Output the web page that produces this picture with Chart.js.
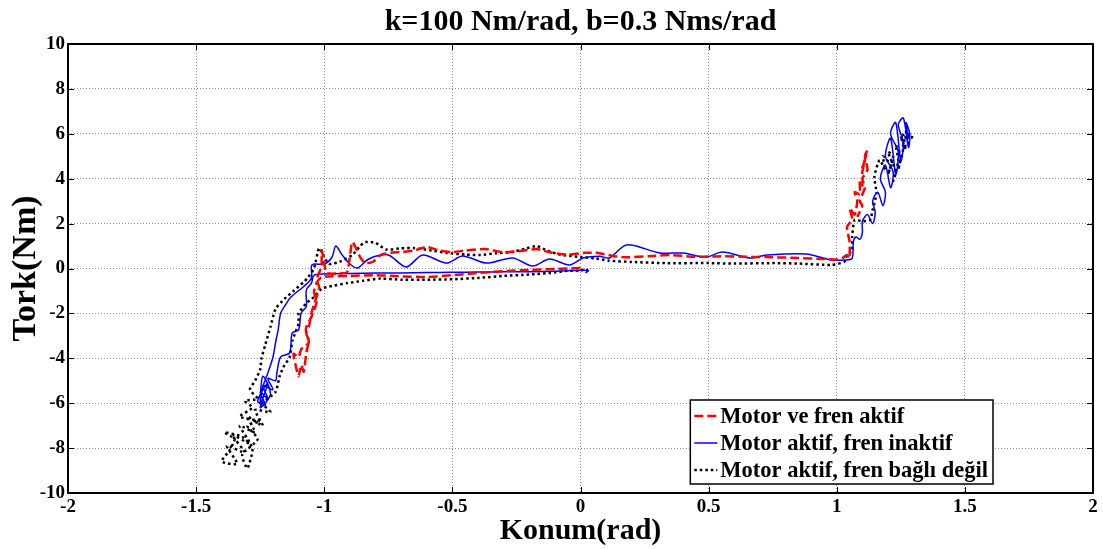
<!DOCTYPE html>
<html>
<head>
<meta charset="utf-8">
<script src="https://cdn.jsdelivr.net/npm/chart.js@4.4.1/dist/chart.umd.min.js"></script>
<style>
  body { margin: 0; background: #fff; }
  #wrap { width: 1103px; height: 549px; }
</style>
</head>
<body>
<div id="wrap"><canvas id="chart" width="1103" height="549"></canvas></div>
<script>
// Series names and axis ticks
const seriesNames = ['Motor ve fren aktif', 'Motor aktif, fren inaktif', 'Motor aktif, fren ba\u011fl\u0131 de\u011fil'];
const xTickValues = [-2, -1.5, -1, -0.5, 0, 0.5, 1, 1.5, 2];
const yTickValues = [-10, -8, -6, -4, -2, 0, 2, 4, 6, 8, 10];

// Motor ve fren aktif (red dashed)
const redX = [0.00, -0.05, -0.1, -0.2, -0.3, -0.4, -0.5, -0.6, -0.7, -0.8, -0.9, -0.97, -1.01,
  -1.03, -1.04, -1.03, -1.05, -1.07, -1.07, -1.06, -1.09, -1.10, -1.12, -1.11, -1.10, -1.09, -1.08, -1.07, -1.06, -1.07, -1.06, -1.05, -1.04, -1.03, -1.02, -1.03, -1.01, -1.01, -1.01, -1.0, -0.99, -0.94, -0.91, -0.89, -0.86, -0.84, -0.81, -0.78,
  -0.74, -0.7, -0.65, -0.6, -0.55, -0.5, -0.45, -0.37, -0.3, -0.22, -0.17, -0.12, -0.05, 0.02, 0.07, 0.13, 0.18, 0.27, 0.35, 0.45, 0.55, 0.65, 0.75, 0.85, 0.95, 1.0, 1.02, 1.04, 1.05,
  1.05, 1.04, 1.06, 1.05, 1.07, 1.08, 1.07, 1.09, 1.09, 1.1, 1.1, 1.11, 1.1, 1.12, 1.11, 1.12, 1.1, 1.11, 1.09, 1.1, 1.08];
const redY = [0.02, 0.0, -0.02, -0.06, -0.12, -0.2, -0.3, -0.38, -0.35, -0.3, -0.33, -0.35, -0.38,
  -0.65, -1.05, -1.5, -2.16, -2.6, -2.9, -3.3, -3.6, -3.94, -3.8, -4.4, -4.8, -4.3, -4.6, -3.76, -3.2, -2.9, -2.6, -2.0, -1.6, -1.27, -0.82, -0.5, 0.1, 0.38, 0.82, 0.24, -0.2, -0.22, -0.15, 1.18, 0.51, 0.24, 0.3, 0.6,
  0.7, 0.73, 0.8, 0.96, 0.8, 0.73, 0.8, 0.87, 0.72, 0.8, 0.87, 0.72, 0.62, 0.7, 0.69, 0.55, 0.5, 0.55, 0.6, 0.52, 0.55, 0.52, 0.5, 0.47, 0.42, 0.4, 0.45, 0.6, 0.45,
  1.2, 1.85, 2.2, 2.7, 2.4, 3.0, 3.4, 3.3, 3.9, 3.7, 4.3, 4.8, 4.5, 5.25, 5.0, 4.4, 4.0, 3.6, 3.0, 2.8, 2.3];

// Motor aktif, fren inaktif (blue solid)
const blueX = [0.02, 0.03, 0.01, -0.1, -0.2, -0.3, -0.4, -0.5, -0.6, -0.7, -0.8, -0.9, -1.0, -1.04,
  -1.05, -1.07, -1.07, -1.09, -1.10, -1.125, -1.135, -1.17, -1.185, -1.19,
  -1.22, -1.2, -1.24, -1.22, -1.25, -1.23, -1.26, -1.22, -1.25, -1.21, -1.24,
  -1.25, -1.24, -1.22, -1.2, -1.19, -1.18, -1.17, -1.15, -1.13, -1.08, -1.05, -1.048, -1.0, -0.97, -0.955, -0.93, -0.9, -0.87, -0.83, -0.78,
  -0.745, -0.68, -0.616, -0.523, -0.46, -0.367, -0.265, -0.187, -0.121, -0.043, 0.01, 0.074, 0.113, 0.18, 0.31, 0.4, 0.49, 0.554, 0.66, 0.726, 0.88, 0.98, 1.03, 1.06,
  1.065, 1.075, 1.09, 1.10, 1.10, 1.12, 1.14, 1.15, 1.14, 1.16, 1.18, 1.19, 1.17, 1.19, 1.21, 1.22, 1.19, 1.21, 1.23, 1.24, 1.21, 1.23, 1.25, 1.26, 1.24, 1.26, 1.28, 1.285, 1.27, 1.28];
const blueY = [-0.2, -0.1, -0.08, -0.12, -0.14, -0.15, -0.16, -0.17, -0.18, -0.2, -0.2, -0.22, -0.24, -0.3,
  -0.65, -0.96, -1.7, -1.98, -2.74, -2.87, -3.76, -3.94, -4.65, -5.0,
  -4.9, -5.4, -5.2, -5.8, -5.5, -6.1, -5.9, -5.1, -6.2, -5.6, -4.8,
  -5.99, -5.28, -4.65, -3.94, -3.3, -2.74, -1.98, -1.6, -1.27, -0.8, -0.42, 0.16, 0.2, 0.5, 1.0, 0.6, 0.2, 0.02, 0.4, 0.6,
  0.58, 0.07, 0.6, 0.24, 0.56, 0.24, 0.47, 0.11, 0.42, 0.16, 0.47, 0.55, 0.47, 1.05, 0.69, 0.69, 0.51, 0.73, 0.47, 0.6, 0.65, 0.38, 0.38, 0.45,
  1.2, 1.4, 1.3, 1.6, 2.1, 2.4, 2.0, 2.5, 3.0, 3.4, 2.8, 3.4, 4.0, 4.6, 3.6, 4.3, 5.0, 5.8, 4.2, 5.2, 6.0, 6.5, 4.8, 5.6, 6.4, 6.7, 5.4, 6.0, 6.5, 5.8];

// Motor aktif, fren bagli degil (black dotted)
const blackX = [0.03, 0.02, 0.0, -0.05, -0.1, -0.2, -0.3, -0.4, -0.5, -0.6, -0.7, -0.78, -0.85, -0.91, -0.97, -1.01,
  -1.04, -1.07, -1.1, -1.1, -1.124, -1.135, -1.16, -1.174, -1.19,
  -1.24, -1.21, -1.27, -1.24, -1.3, -1.27, -1.33, -1.29, -1.36, -1.31, -1.38, -1.34, -1.4, -1.37, -1.35, -1.39, -1.32, -1.28, -1.3, -1.32, -1.26, -1.3, -1.25, -1.33, -1.28, -1.31, -1.26, -1.29, -1.27,
  -1.25, -1.245, -1.23, -1.21, -1.19, -1.155, -1.12, -1.08, -1.065, -1.04, -1.02, -1.0, -0.98, -0.94, -0.89, -0.86, -0.84, -0.8, -0.76,
  -0.7, -0.65, -0.58, -0.52, -0.45, -0.39, -0.33, -0.27, -0.21, -0.17, -0.13, -0.08, 0.0, 0.06, 0.11, 0.2, 0.33, 0.5, 0.6, 0.75, 0.85, 0.98, 1.03, 1.04,
  1.06, 1.06, 1.07, 1.1, 1.13, 1.14, 1.155, 1.147, 1.167,
  1.19, 1.18, 1.21, 1.2, 1.22, 1.2, 1.23, 1.22, 1.24, 1.23, 1.25, 1.24, 1.26, 1.25, 1.27, 1.26, 1.28, 1.27, 1.29, 1.3];
const blackY = [-0.12, -0.02, -0.1, -0.1, -0.18, -0.27, -0.33, -0.42, -0.48, -0.5, -0.5, -0.45, -0.55, -0.65, -0.78, -0.9,
  -1.27, -1.55, -2.0, -2.45, -3.2, -3.94, -4.4, -4.8, -5.5,
  -6.0, -6.4, -6.3, -7.0, -6.6, -7.3, -7.0, -7.8, -7.4, -8.2, -7.9, -8.7, -8.6, -8.1, -7.6, -7.3, -7.5, -8.0, -8.9, -8.3, -7.6, -7.0, -6.8, -6.6, -6.2, -5.9, -5.8, -5.4, -5.0,
  -4.5, -4.0, -3.4, -2.6, -1.8, -1.35, -1.0, -0.6, -0.42, 0.0, 0.91, 0.5, 0.2, 0.3, 0.6, 1.0, 1.18, 1.14, 0.85,
  0.9, 0.91, 0.8, 0.69, 0.62, 0.6, 0.68, 0.73, 0.9, 1.0, 0.8, 0.62, 0.51, 0.45, 0.35, 0.29, 0.24, 0.24, 0.22, 0.24, 0.22, 0.16, 0.3, 0.6,
  0.8, 1.4, 2.16, 2.1, 2.16, 2.6, 3.36, 4.08, 4.83,
  4.4, 5.0, 4.6, 4.2, 5.0, 5.2, 4.3, 3.9, 4.8, 5.5, 5.0, 4.4, 5.4, 5.9, 5.3, 6.0, 5.6, 6.1, 5.8, 6.0];

function toPoints(xs, ys) {
    return xs.map((x, i) => ({ x: x, y: ys[i] }));
}

const fontFamily = "'Liberation Serif', 'Times New Roman', serif";

// MATLAB style box, inward ticks and legend inside the plot
const boxPlugin = {
    id: 'boxPlugin',
    afterDraw(chart) {
        const ctx = chart.ctx;
        const a = chart.chartArea;
        const xs = chart.scales.x;
        const ys = chart.scales.y;
        ctx.save();
        ctx.strokeStyle = '#000';
        ctx.lineWidth = 1;
        ctx.beginPath();
        xTickValues.forEach(v => {
            const px = Math.round(xs.getPixelForValue(v)) + 0.5;
            ctx.moveTo(px, a.bottom); ctx.lineTo(px, a.bottom - 6);
            ctx.moveTo(px, a.top); ctx.lineTo(px, a.top + 6);
        });
        yTickValues.forEach(v => {
            const py = Math.round(ys.getPixelForValue(v)) + 0.5;
            ctx.moveTo(a.left, py); ctx.lineTo(a.left + 6, py);
            ctx.moveTo(a.right, py); ctx.lineTo(a.right - 6, py);
        });
        ctx.stroke();
        ctx.lineWidth = 2;
        ctx.strokeRect(a.left, a.top, a.right - a.left, a.bottom - a.top);

        // legend
        ctx.font = 'bold 22.5px ' + fontFamily;
        let maxW = 0;
        seriesNames.forEach(n => { maxW = Math.max(maxW, ctx.measureText(n).width); });
        const boxRight = a.right - 100;
        const boxBottom = a.bottom - 9;
        const rowH = 27;
        const boxW = 30 + maxW + 5;
        const boxH = rowH * 3 + 3;
        const boxLeft = boxRight - boxW;
        const boxTop = boxBottom - boxH;
        ctx.fillStyle = '#fff';
        ctx.fillRect(boxLeft, boxTop, boxW, boxH);
        ctx.lineWidth = 1.5;
        ctx.strokeStyle = '#000';
        ctx.strokeRect(boxLeft, boxTop, boxW, boxH);
        chart.data.datasets.forEach((ds, i) => {
            const cy = boxTop + 16 + i * rowH;
            ctx.beginPath();
            ctx.strokeStyle = ds.borderColor;
            ctx.lineWidth = ds.borderWidth;
            ctx.setLineDash(ds.borderDash || []);
            ctx.moveTo(boxLeft + 4, cy);
            ctx.lineTo(boxLeft + 27, cy);
            ctx.stroke();
            ctx.setLineDash([]);
            ctx.fillStyle = '#000';
            ctx.textBaseline = 'middle';
            ctx.textAlign = 'left';
            ctx.fillText(ds.label, boxLeft + 30, cy + 1);
        });
        ctx.restore();
    }
};

new Chart(document.getElementById('chart'), {
    type: 'scatter',
    data: {
        datasets: [
            {
                label: seriesNames[0],
                data: toPoints(redX, redY),
                showLine: true,
                borderColor: '#ff0000',
                borderWidth: 2.5,
                borderDash: [9, 4],
                pointRadius: 0,
                tension: 0.2
            },
            {
                label: seriesNames[1],
                data: toPoints(blueX, blueY),
                showLine: true,
                borderColor: '#0000ff',
                borderWidth: 1.5,
                pointRadius: 0,
                tension: 0.3
            },
            {
                label: seriesNames[2],
                data: toPoints(blackX, blackY),
                showLine: true,
                borderColor: '#000000',
                borderWidth: 2.5,
                borderDash: [2.5, 3],
                pointRadius: 0,
                tension: 0.2
            }
        ]
    },
    options: {
        responsive: false,
        animation: false,
        devicePixelRatio: 1,
        layout: { padding: { left: 0, right: 10, top: 0, bottom: 0 } },
        plugins: {
            legend: { display: false },
            tooltip: { enabled: false },
            title: {
                display: true,
                fullSize: false,
                text: 'k=100 Nm/rad, b=0.3 Nms/rad',
                color: '#000',
                font: { family: fontFamily, size: 30, weight: 'bold' },
                padding: { top: 4.5, bottom: 3.5 }
            }
        },
        scales: {
            x: {
                type: 'linear',
                min: -2,
                max: 2,
                afterBuildTicks: scale => { scale.ticks = xTickValues.map(v => ({ value: v })); },
                afterFit: scale => { scale.height = 56; },
                ticks: {
                    color: '#000',
                    padding: 3,
                    maxRotation: 0,
                    callback: v => String(v),
                    font: { family: fontFamily, size: 19, weight: 'bold' }
                },
                grid: { color: 'rgba(0,0,0,0.45)', lineWidth: 1, drawTicks: false },
                border: { display: false, dash: [1, 2] },
                title: {
                    display: true,
                    text: 'Konum(rad)',
                    color: '#000',
                    font: { family: fontFamily, size: 30, weight: 'bold' },
                    padding: { top: 0, bottom: 0 }
                }
            },
            y: {
                type: 'linear',
                min: -10,
                max: 10,
                afterBuildTicks: scale => { scale.ticks = yTickValues.map(v => ({ value: v })); },
                afterFit: scale => { scale.width = 68; },
                ticks: {
                    color: '#000',
                    padding: 3,
                    callback: v => String(v),
                    font: { family: fontFamily, size: 19, weight: 'bold' }
                },
                grid: { color: 'rgba(0,0,0,0.45)', lineWidth: 1, drawTicks: false },
                border: { display: false, dash: [1, 2] },
                title: {
                    display: true,
                    text: 'Tork(Nm)',
                    color: '#000',
                    font: { family: fontFamily, size: 34, weight: 'bold' },
                    padding: { top: 6, bottom: 0 }
                }
            }
        }
    },
    plugins: [boxPlugin]
});
</script>
</body>
</html>
